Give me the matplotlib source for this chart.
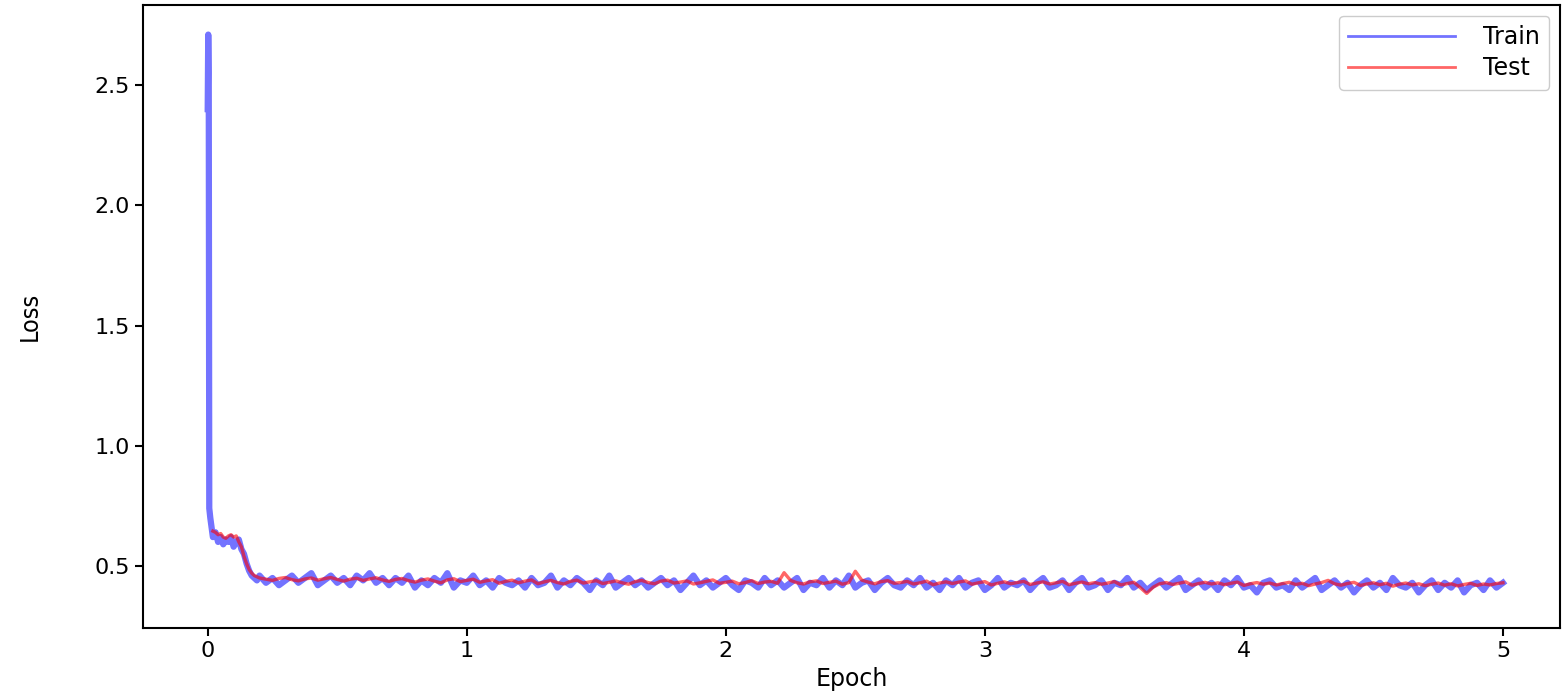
import numpy as np
import matplotlib
matplotlib.use("Agg")
import matplotlib.pyplot as plt

# ---- training loss: warm-up segment (epoch, loss) ----
train_head_epoch = [0.0, 0.002, 0.004, 0.006, 0.010, 0.015, 0.020, 0.030, 0.040, 0.050,
                    0.060, 0.070, 0.080, 0.090, 0.100, 0.110, 0.120, 0.130, 0.140, 0.150,
                    0.160, 0.170, 0.180, 0.190]
train_head_loss = [2.40, 2.71, 2.55, 0.74, 0.70, 0.66, 0.62, 0.64, 0.60, 0.62,
                   0.59, 0.61, 0.60, 0.62, 0.58, 0.60, 0.61, 0.57, 0.55, 0.51,
                   0.48, 0.46, 0.45, 0.44]

# ---- training loss: logged every 0.025 epoch from 0.2 to 5.0 ----
train_tail_loss = [
    0.46, 0.43, 0.45, 0.42, 0.44, 0.46, 0.43, 0.45, 0.47, 0.42, 0.44, 0.46, 0.43, 0.45, 0.42, 0.46, 0.44, 0.47, 0.43, 0.45,
    0.42, 0.45, 0.43, 0.46, 0.41, 0.44, 0.42, 0.45, 0.43, 0.47, 0.41, 0.44, 0.43, 0.46, 0.42, 0.44, 0.41, 0.45, 0.43, 0.42,
    0.44, 0.41, 0.45, 0.42, 0.43, 0.46, 0.41, 0.44, 0.42, 0.45, 0.43, 0.40, 0.44, 0.42, 0.46, 0.41, 0.43, 0.45, 0.42, 0.44,
    0.41, 0.43, 0.45, 0.42, 0.44, 0.40, 0.43, 0.46, 0.42, 0.44, 0.41, 0.43, 0.45, 0.42, 0.40, 0.44, 0.43, 0.41, 0.45, 0.42,
    0.44, 0.41, 0.43, 0.45, 0.40, 0.43, 0.42, 0.45, 0.41, 0.44, 0.42, 0.46, 0.41, 0.43, 0.44, 0.40, 0.43, 0.45, 0.42, 0.41,
    0.44, 0.42, 0.45, 0.41, 0.43, 0.40, 0.44, 0.42, 0.45, 0.41, 0.43, 0.44, 0.40, 0.42, 0.45, 0.41, 0.43, 0.42, 0.44, 0.40,
    0.43, 0.45, 0.41, 0.42, 0.44, 0.40, 0.43, 0.45, 0.41, 0.42, 0.44, 0.40, 0.43, 0.42, 0.45, 0.41, 0.43, 0.40, 0.42, 0.44,
    0.41, 0.43, 0.45, 0.40, 0.42, 0.44, 0.41, 0.43, 0.40, 0.44, 0.42, 0.45, 0.41, 0.42, 0.39, 0.43, 0.44, 0.41, 0.42, 0.40,
    0.44, 0.41, 0.43, 0.45, 0.40, 0.42, 0.44, 0.41, 0.43, 0.39, 0.42, 0.44, 0.41, 0.43, 0.40, 0.45, 0.42, 0.41, 0.43, 0.39,
    0.42, 0.44, 0.40, 0.43, 0.41, 0.44, 0.39, 0.42, 0.43, 0.40, 0.44, 0.41, 0.43,
]

# ---- test loss: warm-up segment ----
test_head_epoch = [0.020, 0.030, 0.040, 0.050, 0.060, 0.070, 0.080, 0.090, 0.100,
                   0.110, 0.120, 0.130, 0.140, 0.150, 0.160, 0.170, 0.180, 0.190]
test_head_loss = [0.645, 0.640, 0.630, 0.635, 0.620, 0.615, 0.625, 0.630, 0.620,
                  0.625, 0.600, 0.580, 0.540, 0.510, 0.485, 0.470, 0.460, 0.455]

# ---- test loss: every 0.025 epoch from 0.2 to 5.0 ----
test_tail_loss = [
    0.450, 0.445, 0.440, 0.448, 0.452, 0.443, 0.438, 0.446, 0.450, 0.441, 0.447, 0.452, 0.444, 0.437, 0.445, 0.449, 0.440, 0.446, 0.451, 0.442,
    0.436, 0.444, 0.448, 0.439, 0.433, 0.441, 0.446, 0.437, 0.430, 0.442, 0.447, 0.435, 0.440, 0.445, 0.432, 0.438, 0.443, 0.428, 0.436, 0.441,
    0.430, 0.437, 0.442, 0.426, 0.434, 0.440, 0.431, 0.425, 0.436, 0.441, 0.429, 0.434, 0.439, 0.427, 0.432, 0.438, 0.430, 0.424, 0.435, 0.440,
    0.431, 0.426, 0.437, 0.441, 0.429, 0.433, 0.438, 0.425, 0.430, 0.436, 0.442, 0.428, 0.432, 0.437, 0.426, 0.431, 0.439, 0.427, 0.433, 0.436,
    0.428, 0.472, 0.440, 0.430, 0.425, 0.434, 0.438, 0.427, 0.432, 0.437, 0.424, 0.431, 0.478, 0.441, 0.433, 0.426, 0.435, 0.439, 0.428, 0.431,
    0.436, 0.425, 0.430, 0.437, 0.422, 0.429, 0.434, 0.427, 0.433, 0.438, 0.424, 0.430, 0.435, 0.421, 0.428, 0.434, 0.426, 0.431, 0.436, 0.423,
    0.429, 0.434, 0.425, 0.430, 0.436, 0.422, 0.428, 0.433, 0.426, 0.431, 0.424, 0.429, 0.435, 0.421, 0.427, 0.432, 0.410, 0.386, 0.412, 0.426,
    0.431, 0.423, 0.428, 0.434, 0.420, 0.427, 0.432, 0.425, 0.430, 0.422, 0.428, 0.433, 0.419, 0.426, 0.431, 0.424, 0.429, 0.421, 0.427, 0.432,
    0.423, 0.428, 0.418, 0.425, 0.431, 0.440, 0.426, 0.420, 0.427, 0.432, 0.419, 0.425, 0.430, 0.422, 0.428, 0.416, 0.424, 0.429, 0.421, 0.426,
    0.418, 0.424, 0.429, 0.420, 0.426, 0.417, 0.423, 0.428, 0.419, 0.425, 0.421, 0.427, 0.430,
]

xticks = [0, 1, 2, 3, 4, 5]
yticks = [0.5, 1.0, 1.5, 2.0, 2.5]

# logging grid for the steady-state part of training
tail_epoch = 0.2 + 0.025 * np.arange(len(train_tail_loss))

train_epoch = np.concatenate([train_head_epoch, tail_epoch])
train_loss = np.concatenate([train_head_loss, train_tail_loss])
test_epoch = np.concatenate([test_head_epoch, tail_epoch[:len(test_tail_loss)]])
test_loss = np.concatenate([test_head_loss, test_tail_loss])

fig = plt.figure(figsize=(15.64, 6.95), dpi=100)
ax = fig.add_axes([0.0914, 0.0964, 0.906, 0.8964])

ax.plot(train_epoch, train_loss, color="blue", alpha=0.55, linewidth=4.5,
        solid_joinstyle="round", label="Train")
ax.plot(test_epoch, test_loss, color="red", alpha=0.6, linewidth=2.4, label="Test")

ax.set_xlim(-0.25, 5.22)
ax.set_ylim(0.242, 2.833)
ax.set_xticks(xticks)
ax.set_yticks(yticks)
ax.tick_params(labelsize=16, length=6, width=1.5)
for s in ax.spines.values():
    s.set_linewidth(1.5)

ax.set_xlabel("Epoch", fontsize=17, labelpad=4)
ax.set_ylabel("Loss", fontsize=18, fontstretch="condensed", labelpad=38)

leg = ax.legend(loc="upper right", fontsize=17, handlelength=4.5, handletextpad=1.2,
                framealpha=1.0, borderpad=0.4, labelspacing=0.3, borderaxespad=0.45)
for h in leg.get_lines():
    h.set_linewidth(2.0)

fig.savefig("out.png", dpi=100)
